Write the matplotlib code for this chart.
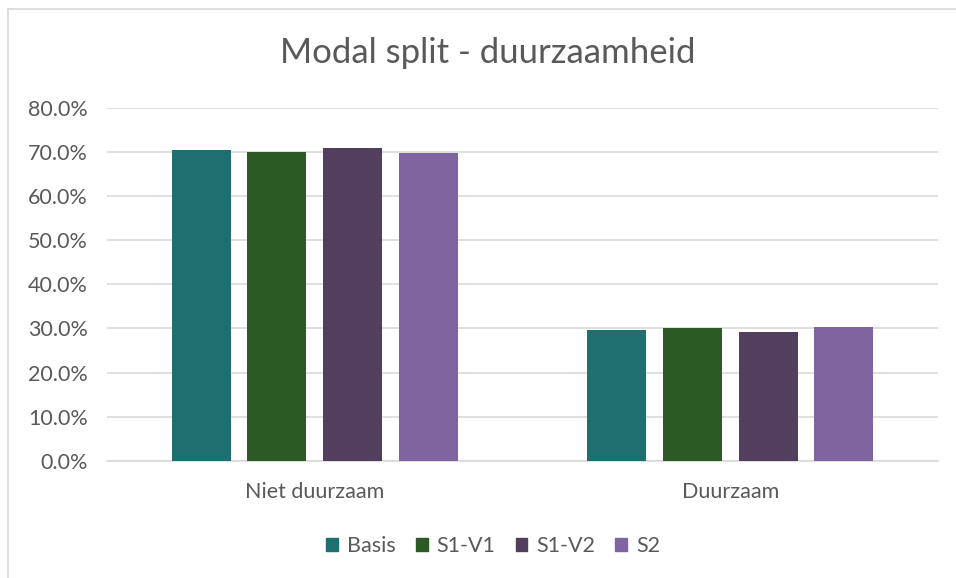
import matplotlib
matplotlib.use("Agg")
import matplotlib.pyplot as plt
import numpy as np
from matplotlib.ticker import FuncFormatter, MultipleLocator
from matplotlib.lines import Line2D

categories = ["Niet duurzaam", "Duurzaam"]
series_names = ["Basis", "S1-V1", "S1-V2", "S2"]
basis = [70.4, 29.6]
s1_v1 = [70.0, 30.0]
s1_v2 = [70.9, 29.1]
s2 = [69.6, 30.4]
series_values = [basis, s1_v1, s1_v2, s2]
colors = ["#1E7070", "#2B5A25", "#533E5D", "#8064A0"]

text_color = "#595959"
grid_color = "#D9D9D9"
font = ["Lato", "DejaVu Sans"]

W, H = 956, 578
fig = plt.figure(figsize=(W / 100, H / 100), dpi=100)
ax = fig.add_axes([107 / W, 1 - 461 / H, (938 - 107) / W, (461 - 107.5) / H])

x = np.arange(len(categories))
bar_w = 0.142
step = 0.182
for i, (name, vals, c) in enumerate(zip(series_names, series_values, colors)):
    ax.bar(x + (i - 1.5) * step, vals, width=bar_w, color=c, label=name, zorder=3)

ax.set_xlim(-0.5, 1.5)
ax.set_ylim(0, 80)
ax.yaxis.set_major_locator(MultipleLocator(10))
ax.yaxis.set_major_formatter(FuncFormatter(lambda v, p: f"{v:.1f}%"))
ax.grid(axis="y", color=grid_color, linewidth=1.2, zorder=0)
for s in ["top", "right", "left"]:
    ax.spines[s].set_visible(False)
ax.spines["bottom"].set_color(grid_color)
ax.spines["bottom"].set_linewidth(1.2)
ax.tick_params(axis="both", length=0, colors=text_color, labelsize=15.5)
ax.tick_params(axis="y", pad=14)
ax.tick_params(axis="x", pad=15)
ax.set_xticks(x)
ax.set_xticklabels(categories)
for lbl in ax.get_xticklabels() + ax.get_yticklabels():
    lbl.set_fontfamily(font)

fig.text(488 / W, 1 - 53 / H, "Modal split - duurzaamheid", ha="center", va="center",
         fontsize=25, color=text_color, family=font)

handles = [plt.Rectangle((0, 0), 1, 1, color=c) for c in colors]
leg = fig.legend(handles, series_names, loc="center", bbox_to_anchor=(493 / W, 1 - 546 / H),
                 ncol=4, frameon=False, handlelength=0.55, handleheight=0.55,
                 handletextpad=0.4, columnspacing=0.95, prop={"family": font, "size": 15.5})
for t in leg.get_texts():
    t.set_color(text_color)

# chart frame
fig.add_artist(Line2D([7.5 / W, 7.5 / W], [0, 1 - 8.5 / H], transform=fig.transFigure,
                      color=grid_color, linewidth=1.2))
fig.add_artist(Line2D([7.5 / W, 1], [1 - 8.5 / H, 1 - 8.5 / H], transform=fig.transFigure,
                      color=grid_color, linewidth=1.2))

fig.savefig("out.png", dpi=100, facecolor="white")
